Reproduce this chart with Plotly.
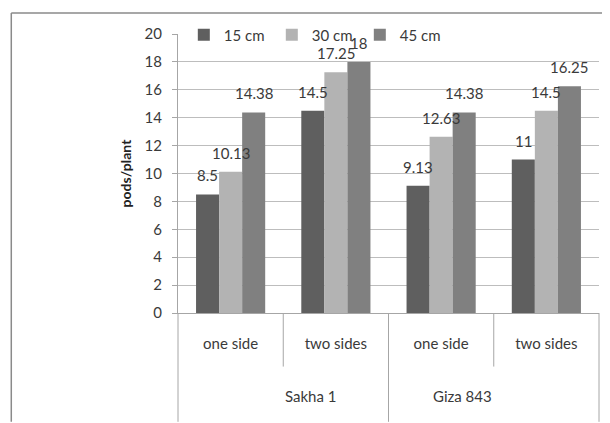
import plotly.graph_objects as go

# ---- data ----
varieties = ["Sakha 1", "Giza 843"]
sides = ["one side", "two sides", "one side", "two sides"]
series_names = ["15 cm", "30 cm", "45 cm"]
v15 = [8.5, 14.5, 9.13, 11]
v30 = [10.13, 17.25, 12.63, 14.5]
v45 = [14.38, 18, 14.38, 16.25]
y_ticks = [0, 2, 4, 6, 8, 10, 12, 14, 16, 18, 20]

colors = ["#5f5f5f", "#b3b3b3", "#808080"]
FONT = "Lato"
TXT = "#3a3a3a"
GRID = "#bdbdbd"
AX = "#a6a6a6"
FS = 15

BARGAP = 0.343
xpos = list(range(len(sides)))

fig = go.Figure()
all_vals = [v15, v30, v45]
for name, vals, col in zip(series_names, all_vals, colors):
    fig.add_trace(go.Bar(x=xpos, y=vals, name=name, marker=dict(color=col, line=dict(width=0))))

# data labels
w = (1 - BARGAP) / len(series_names)
annotations = []
for j, vals in enumerate(all_vals):
    for i, v in enumerate(vals):
        annotations.append(dict(x=i + (j - 1) * w, y=v, xref="x", yref="y",
                                text=f"{v:g}", showarrow=False, yshift=19,
                                yanchor="middle", xanchor="center",
                                font=dict(family=FONT, size=FS, color=TXT)))

n = len(sides)
def px(xv):  # category coordinate -> paper
    return (xv + 0.5) / n

# outer group labels
for k, name in enumerate(varieties):
    annotations.append(dict(x=px(2 * k + 0.5), y=-0.299, xref="paper", yref="paper",
                            text=name, showarrow=False, yanchor="middle",
                            font=dict(family=FONT, size=FS, color=TXT)))

shapes = []
# inner separators
for b in [0.5, 2.5]:
    shapes.append(dict(type="line", xref="paper", yref="paper", x0=px(b), x1=px(b),
                       y0=0, y1=-0.192, line=dict(color=AX, width=1)))
# outer separators
for b in [-0.5, 1.5, 3.5]:
    shapes.append(dict(type="line", xref="paper", yref="paper", x0=px(b), x1=px(b),
                       y0=0, y1=-0.39, line=dict(color=AX, width=1)))
# outer frame (left and top edges visible)
FRAME = "#8a8a8a"
shapes.append(dict(type="line", xref="paper", yref="paper", x0=-0.396, x1=-0.396,
                   y0=-0.39, y1=1.075, line=dict(color=FRAME, width=1.5)))
shapes.append(dict(type="line", xref="paper", yref="paper", x0=-0.396, x1=1.025,
                   y0=1.075, y1=1.075, line=dict(color=FRAME, width=1.5)))

fig.update_layout(
    width=602, height=415,
    margin=dict(l=170, r=11, t=24, b=110),
    paper_bgcolor="white", plot_bgcolor="white",
    barmode="group", bargap=BARGAP, bargroupgap=0,
    font=dict(family=FONT, size=FS, color=TXT),
    showlegend=True,
    legend=dict(orientation="h", x=0.0138, xanchor="left", y=0.996, yanchor="middle",
                bgcolor="rgba(0,0,0,0)", entrywidth=43, entrywidthmode="pixels",
                font=dict(family=FONT, size=FS, color=TXT)),
    annotations=annotations,
    shapes=shapes,
)
fig.update_xaxes(range=[-0.5, 3.5], tickvals=xpos, ticktext=sides, ticks="",
                 showline=True, linecolor=AX, linewidth=1, showgrid=False,
                 ticklabelstandoff=17, tickfont=dict(family=FONT, size=FS, color=TXT))
fig.update_yaxes(range=[0, 20], tickvals=y_ticks, ticks="outside", ticklen=5,
                 tickcolor=AX, showline=True, linecolor=AX, linewidth=1,
                 showgrid=True, gridcolor=GRID, gridwidth=1, zeroline=False,
                 ticklabelstandoff=7, tickfont=dict(family=FONT, size=FS, color=TXT),
                 title=dict(text="<b>pods/plant</b>", standoff=9,
                            font=dict(family=FONT, size=14, color="#222")))

fig.write_html("out.html")
